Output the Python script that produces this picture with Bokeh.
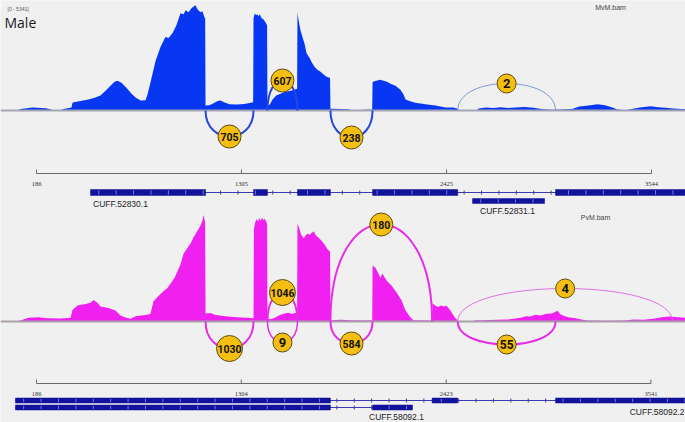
import numpy as np
from bokeh.plotting import figure
from bokeh.models import Range1d, ColumnDataSource
from bokeh.core.properties import value
from bokeh.embed import file_html
from bokeh.resources import INLINE

# ---------------- DATA ----------------
male_scale_max = 5341
pool_scale_max = 3275

male_pos = [0, 82, 98, 164, 235, 262, 273, 317, 328, 377, 383, 426, 470, 508, 535, 563, 590, 612,
            628, 650, 677, 705, 727, 754, 781, 792, 808, 836, 863, 890, 907, 929, 950, 972, 989,
            1000, 1016, 1032, 1054, 1065, 1081, 1092, 1103, 1107, 1109, 1130, 1150, 1175, 1191,
            1210, 1240, 1280, 1320, 1350, 1369, 1371, 1378, 1385, 1392, 1398, 1405, 1415, 1425,
            1436, 1445, 1447, 1460, 1475, 1495, 1518, 1545, 1570, 1595, 1609, 1611, 1616, 1627,
            1638, 1650, 1660, 1677, 1690, 1704, 1720, 1737, 1755, 1770, 1786, 1789, 1791, 1850,
            1890, 1910, 1950, 1970, 2019, 2021, 2040, 2064, 2081, 2100, 2119, 2146, 2173, 2190,
            2201, 2230, 2260, 2283, 2320, 2365, 2419, 2460, 2485, 2490, 2590, 2600, 2640, 2680,
            2720, 2760, 2800, 2850, 2900, 2950, 3000, 3050, 3110, 3150, 3200, 3249, 3290, 3330,
            3358, 3400, 3429, 3480, 3539, 3580, 3620, 3660, 3730]
male_cov = [0, 0, 80, 150, 110, 60, 0, 0, 60, 150, 400, 480, 560, 650, 760, 1000, 1250, 1450,
            1500, 1400, 1150, 850, 650, 500, 520, 800, 1400, 2500, 3200, 3700, 3650, 3900, 4300,
            4900, 4850, 5050, 4950, 5150, 5300, 5100, 4950, 5000, 4700, 4650, 250, 270, 350, 480,
            500, 420, 320, 300, 330, 380, 420, 4650, 4900, 4800, 4850, 4750, 4850, 4650, 4600,
            4450, 4300, 250, 300, 550, 750, 850, 950, 980, 1050, 1100, 4950, 4600, 4050, 3700,
            3350, 2900, 2650, 2400, 2200, 2050, 1950, 1800, 1700, 1650, 1600, 90, 80, 60, 0, 0,
            40, 50, 1430, 1500, 1550, 1500, 1450, 1350, 1250, 1050, 800, 550, 450, 380, 350, 300,
            250, 150, 150, 100, 0, 0, 100, 150, 130, 170, 120, 150, 180, 140, 60, 40, 50, 80, 200,
            250, 310, 260, 150, 50, 10, 60, 150, 210, 170, 140, 100, 60]

pool_pos = [0, 82, 98, 142, 197, 246, 317, 372, 383, 410, 454, 481, 497, 519, 535, 579, 617,
            645, 672, 699, 727, 781, 808, 825, 852, 879, 901, 918, 940, 956, 972, 989, 1005, 1027,
            1043, 1065, 1081, 1092, 1098, 1107, 1109, 1136, 1160, 1195, 1230, 1280, 1340, 1371,
            1373, 1380, 1388, 1395, 1402, 1410, 1418, 1425, 1432, 1440, 1445, 1447, 1465, 1490,
            1515, 1540, 1560, 1580, 1600, 1609, 1611, 1620, 1630, 1645, 1655, 1665, 1675, 1690,
            1700, 1712, 1725, 1740, 1758, 1775, 1789, 1791, 1850, 1900, 1960, 2019, 2021, 2037,
            2050, 2064, 2075, 2097, 2124, 2152, 2179, 2201, 2228, 2244, 2346, 2348, 2365, 2380,
            2392, 2410, 2425, 2446, 2470, 2485, 2492, 2560, 2580, 2627, 2700, 2760, 2829, 2860,
            2883, 2910, 2938, 2970, 3000, 3031, 3045, 3063, 3090, 3129, 3160, 3195, 3300, 3400,
            3446, 3500, 3555, 3600, 3640, 3730]
pool_cov = [0, 0, 30, 110, 130, 100, 90, 110, 350, 480, 520, 560, 640, 560, 450, 400, 330,
            180, 120, 80, 160, 190, 220, 600, 760, 900, 1000, 1130, 1300, 1500, 1700, 2020, 2150,
            2320, 2500, 2700, 2850, 3000, 3170, 2950, 240, 250, 200, 170, 150, 130, 110, 100,
            2750, 2950, 3050, 2980, 3080, 3000, 3090, 3020, 3060, 2980, 2900, 80, 70, 120, 190,
            240, 260, 230, 250, 260, 2900, 2800, 2600, 2480, 2550, 2620, 2580, 2640, 2690, 2560,
            2500, 2420, 2300, 2150, 2080, 40, 50, 40, 30, 40, 1670, 1600, 1460, 1300, 1430, 1220,
            1070, 860, 630, 330, 120, 40, 30, 540, 470, 430, 480, 450, 470, 330, 120, 40, 0, 0,
            30, 40, 50, 60, 110, 160, 150, 200, 180, 230, 240, 320, 220, 170, 130, 100, 60, 30,
            20, 30, 60, 50, 80, 130, 150, 110]

# splice junctions (start, end, read count)
male_junc_start = [1109, 1447, 1791, 2486]
male_junc_end = [1371, 1611, 2021, 3020]
male_junc_count = [705, 607, 238, 2]
pool_junc_start = [1109, 1447, 1447, 1791, 1791, 2486, 2486]
pool_junc_end = [1371, 1611, 1611, 2021, 2346, 3659, 3020]
pool_junc_count = [1030, 1046, 9, 584, 180, 4, 55]

male_ticks = [186, 1305, 2425, 3544]
pool_ticks = [186, 1304, 2423, 3541]

# transcripts: exons (start, end)
male_gene_names = ["CUFF.52830.1", "CUFF.52831.1"]
male_gene_exons = [[(481, 1109), (1371, 1447), (1611, 1791), (2021, 2486), (3020, 3760)],
                   [(2567, 2960)]]
pool_gene_names = ["CUFF.58092.2", "CUFF.58092.1"]
pool_gene_exons = [[(71, 1791), (2346, 2486), (3020, 3760)],
                   [(71, 1791), (2021, 2239)]]

# ---------------- LAYOUT / STYLE ----------------
BG = "#f0f0f0"
W, H, M = 685, 422, 0
PX_A, PX_B = 36.0, 651.0          # reference pixel of first/last ruler tick


def px2bp(px):
    return male_ticks[0] + (px - PX_A) * (male_ticks[-1] - male_ticks[0]) / (PX_B - PX_A)


def cov_range(base_px, full_px, full_val):
    k = (base_px - full_px) / full_val
    return Range1d(start=(base_px - (M + H)) / k, end=(base_px - M) / k)


MALE_BASE, POOL_BASE = 110, 321
p = figure(width=W, height=H, x_range=Range1d(px2bp(M), px2bp(M + W)),
           y_range=Range1d(M + H, M), output_backend="svg", toolbar_location=None,
           x_axis_location=None, y_axis_location=None, min_border=0,
           background_fill_color=BG, border_fill_color=BG, outline_line_color=None)
p.xgrid.visible = False
p.ygrid.visible = False
p.extra_y_ranges = {"male": cov_range(MALE_BASE, 4, male_scale_max),
                    "pool": cov_range(POOL_BASE, 211, pool_scale_max)}

MALE_COL, POOL_COL = "#0837f4", "#f020f0"
MALE_ARC, POOL_ARC = "#2448d8", "#e62ee6"

# coverage
p.varea(x=male_pos, y1=0, y2=male_cov, fill_color=MALE_COL, y_range_name="male")
p.varea(x=pool_pos, y1=0, y2=pool_cov, fill_color=POOL_COL, y_range_name="pool")
xs, xe = px2bp(M), px2bp(M + W)
p.segment(x0=[xs], y0=[0], x1=[xe], y1=[0], line_color="#a4a4b4", line_width=2, y_range_name="male")
p.segment(x0=[xs], y0=[0], x1=[xe], y1=[0], line_color="#a8a0a8", line_width=2, y_range_name="pool")

# junction arcs (style: side, depth px, width)
male_arc_side = ["below", "above", "below", "above"]
male_arc_depth = [26, 30, 27, 27]
male_arc_width = [2, 2, 2, 1]
male_arc_color = [MALE_ARC, MALE_ARC, MALE_ARC, "#7b96d6"]
pool_arc_side = ["below", "above", "below", "below", "above", "above", "below"]
pool_arc_depth = [27, 29, 21, 22, 97, 33, 23]
pool_arc_width = [2, 2, 1.5, 2, 2, 1, 2]
pool_arc_color = [POOL_ARC, POOL_ARC, POOL_ARC, POOL_ARC, POOL_ARC, "#e070e0", POOL_ARC]

label_size = {1: 19, 2: 19, 3: 23, 4: 26}
label_font = {1: "13px", 2: "12px", 3: "10.5px", 4: "10.5px"}


def draw_junctions(starts, ends, counts, sides, depths, widths, colors, base):
    n = len(starts)
    sg = [-1 if s == "above" else 1 for s in sides]
    cy = [base + g * d * 4.0 / 3.0 for g, d in zip(sg, depths)]
    src = ColumnDataSource(dict(x0=starts, x1=ends, y0=[base] * n, y1=[base] * n,
                                cx0=starts, cx1=ends, cy0=cy, cy1=cy, lw=widths, lc=colors))
    p.bezier(x0="x0", y0="y0", x1="x1", y1="y1", cx0="cx0", cy0="cy0", cx1="cx1", cy1="cy1",
             line_color="lc", line_width="lw", source=src)
    txt = [str(c) for c in counts]
    lab = ColumnDataSource(dict(x=[(a + b) / 2 for a, b in zip(starts, ends)],
                                y=[base + g * d for g, d in zip(sg, depths)],
                                t=txt, sz=[label_size[len(t)] for t in txt],
                                fs=[label_font[len(t)] for t in txt]))
    p.scatter(x="x", y="y", size="sz", marker="circle", fill_color="#f5bf12",
              line_color="#5c4b14", line_width=1, source=lab)
    p.text(x="x", y="y", text="t", text_font_size="fs", text_font=value("Roboto"),
           text_font_style="bold", text_align="center", text_baseline="middle",
           text_color="#111111", source=lab)


draw_junctions(male_junc_start, male_junc_end, male_junc_count, male_arc_side,
               male_arc_depth, male_arc_width, male_arc_color, MALE_BASE)
draw_junctions(pool_junc_start, pool_junc_end, pool_junc_count, pool_arc_side,
               pool_arc_depth, pool_arc_width, pool_arc_color, POOL_BASE)


# rulers
def draw_ruler(ticks, y):
    p.segment(x0=[ticks[0]], y0=[y], x1=[ticks[-1]], y1=[y], line_color="#6a6a6a", line_width=1)
    p.segment(x0=ticks, y0=[y] * len(ticks), x1=ticks, y1=[y - 4] * len(ticks),
              line_color="#6a6a6a", line_width=1)
    p.text(x=ticks, y=[y + 10] * len(ticks), text=[str(t) for t in ticks],
           text_font=value("Liberation Serif"), text_font_size="6.5px", text_color="#333333",
           text_align="center", text_baseline="middle")


draw_ruler(male_ticks, 173)
draw_ruler(pool_ticks, 383)

# gene tracks
EXON_COL, INTRON_COL = "#12129c", "#3c3cae"


def draw_gene(exons, y, h):
    g0, g1 = exons[0][0], exons[-1][1]
    p.segment(x0=[g0], y0=[y], x1=[g1], y1=[y], line_color=INTRON_COL, line_width=1)
    p.quad(left=[e[0] for e in exons], right=[e[1] for e in exons],
           top=[y - h / 2] * len(exons), bottom=[y + h / 2] * len(exons),
           fill_color=EXON_COL, line_color=EXON_COL, line_width=0.5)
    marks = np.arange(g0 + 45, g1, 95)
    inside = [any(a < m < b for a, b in exons) for m in marks]
    mi = [m for m, f in zip(marks, inside) if f]
    mo = [m for m, f in zip(marks, inside) if not f]
    p.segment(x0=mi, y0=[y - h / 2 + 0.8] * len(mi), x1=mi, y1=[y + h / 2 - 0.8] * len(mi),
              line_color="#7a7ad0", line_width=1)
    p.segment(x0=mo, y0=[y - 2] * len(mo), x1=mo, y1=[y + 2] * len(mo),
              line_color=INTRON_COL, line_width=1)


draw_gene(male_gene_exons[0], 192, 6)
draw_gene(male_gene_exons[1], 200.5, 5)
draw_gene(pool_gene_exons[0], 400, 5)
draw_gene(pool_gene_exons[1], 407, 5)

lab_font = value("Liberation Sans")
p.text(x=[px2bp(120)], y=[203.5], text=[male_gene_names[0]], text_font=lab_font,
       text_font_size="8.5px", text_color="#222222", text_align="center", text_baseline="middle")
p.text(x=[px2bp(507)], y=[210.5], text=[male_gene_names[1]], text_font=lab_font,
       text_font_size="8.5px", text_color="#222222", text_align="center", text_baseline="middle")
p.text(x=[px2bp(684)], y=[411], text=[pool_gene_names[0]], text_font=lab_font,
       text_font_size="8.5px", text_color="#222222", text_align="right", text_baseline="middle")
p.text(x=[px2bp(396)], y=[416.5], text=[pool_gene_names[1]], text_font=lab_font,
       text_font_size="8.5px", text_color="#222222", text_align="center", text_baseline="middle")

# track titles
p.text(x=[px2bp(4)], y=[22, 236], text=["Male", "Pool"], text_font=value("Open Sans"),
       text_font_size="14px", text_color="#1a1a1a", text_align="left", text_baseline="middle")
p.text(x=[px2bp(7)], y=[8, 216], text=["[0 - %d]" % male_scale_max, "[0 - %d]" % pool_scale_max],
       text_font=lab_font, text_font_size="5px", text_color="#555555",
       text_align="left", text_baseline="middle")
p.text(x=[px2bp(610), px2bp(595)], y=[7, 217], text=["MvM.bam", "PvM.bam"], text_font=lab_font,
       text_font_size="7px", text_color="#444444", text_align="center", text_baseline="middle")

open("out.html", "w").write(file_html(p, INLINE))
